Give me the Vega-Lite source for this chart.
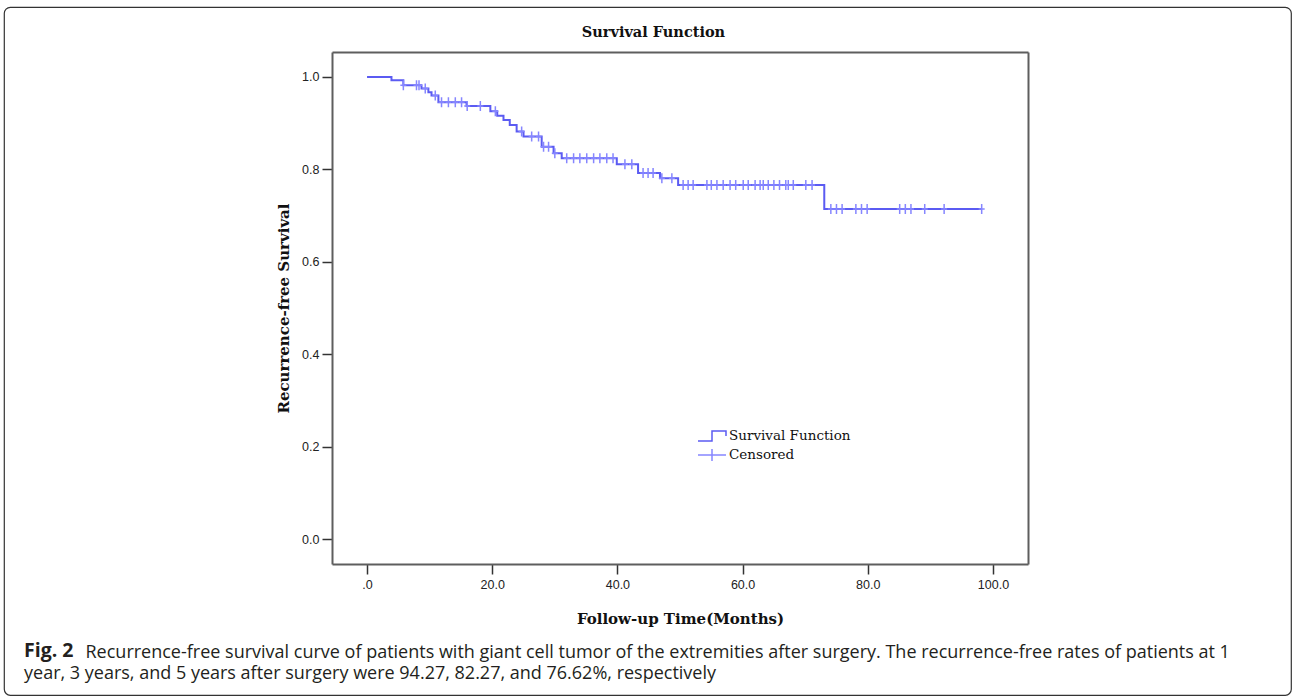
{
  "$schema": "https://vega.github.io/schema/vega-lite/v6.json",
  "width": 1287,
  "height": 688,
  "autosize": {"type": "none"},
  "padding": {"left": 4, "top": 7, "right": 4, "bottom": 2},
  "background": "white",
  "title": {
    "text": "Fig. 2",
    "subtitle": "year, 3 years, and 5 years after surgery were 94.27, 82.27, and 76.62%, respectively",
    "orient": "bottom",
    "anchor": "start",
    "frame": "group",
    "offset": -53,
    "dx": 20,
    "baseline": "top",
    "font": "Open Sans",
    "fontSize": 19.5,
    "fontWeight": "bold",
    "color": "#231f20",
    "subtitleFont": "Open Sans",
    "subtitleFontSize": 18,
    "subtitleFontWeight": "normal",
    "subtitleColor": "#231f20",
    "subtitlePadding": 3.6
  },
  "datasets": {
    "steps": [
      {"time": 0, "surv": 1.0},
      {"time": 3.9, "surv": 0.993},
      {"time": 5.8, "surv": 0.982},
      {"time": 8.7, "surv": 0.975},
      {"time": 9.8, "surv": 0.967},
      {"time": 10.3, "surv": 0.96},
      {"time": 11.4, "surv": 0.945},
      {"time": 15.9, "surv": 0.937},
      {"time": 19.7, "surv": 0.926},
      {"time": 20.8, "surv": 0.916},
      {"time": 21.8, "surv": 0.907},
      {"time": 22.8, "surv": 0.896},
      {"time": 23.9, "surv": 0.882},
      {"time": 25.0, "surv": 0.871},
      {"time": 27.9, "surv": 0.849},
      {"time": 29.8, "surv": 0.835},
      {"time": 31.1, "surv": 0.824},
      {"time": 39.9, "surv": 0.811},
      {"time": 43.3, "surv": 0.792},
      {"time": 46.8, "surv": 0.781},
      {"time": 49.7, "surv": 0.766},
      {"time": 73.05, "surv": 0.714},
      {"time": 98.2, "surv": 0.714}
    ],
    "censored": [
      {"time": 5.8, "surv": 0.982, "series": "Censored"},
      {"time": 7.9, "surv": 0.982, "series": "Censored"},
      {"time": 8.3, "surv": 0.982, "series": "Censored"},
      {"time": 9.3, "surv": 0.975, "series": "Censored"},
      {"time": 10.9, "surv": 0.96, "series": "Censored"},
      {"time": 11.9, "surv": 0.945, "series": "Censored"},
      {"time": 13.0, "surv": 0.945, "series": "Censored"},
      {"time": 14.1, "surv": 0.945, "series": "Censored"},
      {"time": 15.1, "surv": 0.945, "series": "Censored"},
      {"time": 16.0, "surv": 0.937, "series": "Censored"},
      {"time": 18.1, "surv": 0.937, "series": "Censored"},
      {"time": 20.5, "surv": 0.926, "series": "Censored"},
      {"time": 24.7, "surv": 0.882, "series": "Censored"},
      {"time": 26.3, "surv": 0.871, "series": "Censored"},
      {"time": 27.4, "surv": 0.871, "series": "Censored"},
      {"time": 28.2, "surv": 0.849, "series": "Censored"},
      {"time": 29.0, "surv": 0.849, "series": "Censored"},
      {"time": 30.0, "surv": 0.835, "series": "Censored"},
      {"time": 31.9, "surv": 0.824, "series": "Censored"},
      {"time": 33.0, "surv": 0.824, "series": "Censored"},
      {"time": 34.0, "surv": 0.824, "series": "Censored"},
      {"time": 35.1, "surv": 0.824, "series": "Censored"},
      {"time": 36.2, "surv": 0.824, "series": "Censored"},
      {"time": 37.2, "surv": 0.824, "series": "Censored"},
      {"time": 38.3, "surv": 0.824, "series": "Censored"},
      {"time": 39.3, "surv": 0.824, "series": "Censored"},
      {"time": 41.2, "surv": 0.811, "series": "Censored"},
      {"time": 42.3, "surv": 0.811, "series": "Censored"},
      {"time": 44.1, "surv": 0.792, "series": "Censored"},
      {"time": 44.9, "surv": 0.792, "series": "Censored"},
      {"time": 45.7, "surv": 0.792, "series": "Censored"},
      {"time": 47.1, "surv": 0.781, "series": "Censored"},
      {"time": 48.7, "surv": 0.781, "series": "Censored"},
      {"time": 50.5, "surv": 0.766, "series": "Censored"},
      {"time": 51.3, "surv": 0.766, "series": "Censored"},
      {"time": 52.1, "surv": 0.766, "series": "Censored"},
      {"time": 54.3, "surv": 0.766, "series": "Censored"},
      {"time": 55.0, "surv": 0.766, "series": "Censored"},
      {"time": 55.9, "surv": 0.766, "series": "Censored"},
      {"time": 56.9, "surv": 0.766, "series": "Censored"},
      {"time": 58.0, "surv": 0.766, "series": "Censored"},
      {"time": 58.9, "surv": 0.766, "series": "Censored"},
      {"time": 60.1, "surv": 0.766, "series": "Censored"},
      {"time": 60.9, "surv": 0.766, "series": "Censored"},
      {"time": 62.0, "surv": 0.766, "series": "Censored"},
      {"time": 62.8, "surv": 0.766, "series": "Censored"},
      {"time": 63.3, "surv": 0.766, "series": "Censored"},
      {"time": 64.1, "surv": 0.766, "series": "Censored"},
      {"time": 65.0, "surv": 0.766, "series": "Censored"},
      {"time": 65.9, "surv": 0.766, "series": "Censored"},
      {"time": 66.9, "surv": 0.766, "series": "Censored"},
      {"time": 67.3, "surv": 0.766, "series": "Censored"},
      {"time": 68.1, "surv": 0.766, "series": "Censored"},
      {"time": 70.1, "surv": 0.766, "series": "Censored"},
      {"time": 71.1, "surv": 0.766, "series": "Censored"},
      {"time": 74.1, "surv": 0.714, "series": "Censored"},
      {"time": 75.0, "surv": 0.714, "series": "Censored"},
      {"time": 75.9, "surv": 0.714, "series": "Censored"},
      {"time": 78.1, "surv": 0.714, "series": "Censored"},
      {"time": 79.0, "surv": 0.714, "series": "Censored"},
      {"time": 79.9, "surv": 0.714, "series": "Censored"},
      {"time": 85.1, "surv": 0.714, "series": "Censored"},
      {"time": 86.0, "surv": 0.714, "series": "Censored"},
      {"time": 86.9, "surv": 0.714, "series": "Censored"},
      {"time": 89.1, "surv": 0.714, "series": "Censored"},
      {"time": 92.2, "surv": 0.714, "series": "Censored"},
      {"time": 98.2, "surv": 0.714, "series": "Censored"}
    ]
  },
  "layer": [
    {
      "data": {"name": "steps"},
      "mark": {"type": "line", "interpolate": "step-after", "color": "#5b5bf2", "strokeWidth": 2},
      "encoding": {
        "x": {
          "field": "time", "type": "quantitative",
          "scale": {"domain": [-5.6, 105.6], "range": [328, 1024], "nice": false, "zero": false},
          "axis": {
            "orient": "bottom", "offset": -131, "values": [0, 20, 40, 60, 80, 100],
            "labelExpr": "datum.value === 0 ? '.0' : format(datum.value, '.1f')",
            "grid": false, "tickSize": 10, "tickWidth": 1.5, "tickColor": "#333333",
            "domainColor": "#5e5e5e", "domainWidth": 2,
            "labelFont": "Liberation Sans", "labelFontSize": 12.5, "labelColor": "#222222", "labelPadding": 4,
            "title": "Follow-up Time(Months)", "titleFont": "DejaVu Serif", "titleFontSize": 15, "titleFontWeight": "bold", "titleColor": "#111111",
            "titleY": 54, "titleBaseline": "middle"
          }
        },
        "y": {
          "field": "surv", "type": "quantitative",
          "scale": {"domain": [-0.054, 1.054], "range": [557, 45], "nice": false, "zero": false},
          "axis": {
            "orient": "left", "offset": -328, "values": [0, 0.2, 0.4, 0.6, 0.8, 1.0], "format": ".1f",
            "grid": false, "tickSize": 10, "tickWidth": 1.5, "tickColor": "#333333",
            "domainColor": "#5e5e5e", "domainWidth": 2,
            "labelFont": "Liberation Sans", "labelFontSize": 12.5, "labelColor": "#222222", "labelPadding": 3,
            "title": "Recurrence-free Survival", "titleFont": "DejaVu Serif", "titleFontSize": 15, "titleFontWeight": "bold", "titleColor": "#111111",
            "titleX": -49, "titleBaseline": "middle", "titleAngle": -90
          }
        }
      }
    },
    {
      "data": {"name": "censored"},
      "mark": {"type": "point", "shape": "M-0.6,0H0.6M0,-1V1", "filled": false, "size": 100, "strokeWidth": 1.5, "opacity": 1},
      "encoding": {
        "x": {
          "field": "time", "type": "quantitative",
          "scale": {"domain": [-5.6, 105.6], "range": [328, 1024], "nice": false, "zero": false},
          "axis": {
            "orient": "top", "offset": -45, "ticks": false, "labels": false, "grid": false,
            "domainColor": "#5e5e5e", "domainWidth": 2,
            "title": "Survival Function", "titleFont": "DejaVu Serif", "titleFontSize": 14.5, "titleFontWeight": "bold", "titleColor": "#111111",
            "titleX": 649, "titleY": -20, "titleBaseline": "middle", "titleAlign": "center"
          }
        },
        "y": {
          "field": "surv", "type": "quantitative",
          "scale": {"domain": [-0.054, 1.054], "range": [557, 45], "nice": false, "zero": false},
          "axis": {
            "orient": "right", "offset": -263, "ticks": false, "labels": false, "grid": false,
            "domainColor": "#5e5e5e", "domainWidth": 2,
            "title": "Recurrence-free survival curve of patients with giant cell tumor of the extremities after surgery. The recurrence-free rates of patients at 1",
            "titleFont": "Open Sans", "titleFontSize": 18, "titleFontWeight": "normal", "titleColor": "#231f20",
            "titleAngle": 0, "titleAlign": "left", "titleBaseline": "alphabetic", "titleX": -943, "titleY": 650, "titleLimit": 1300
          }
        },
        "color": {
          "field": "series", "type": "nominal",
          "scale": {"domain": ["Survival Function", "Censored"], "range": ["#5b5bf2", "#8686ff"]},
          "legend": {
            "title": null, "orient": "none", "legendX": 700, "legendY": 421, "padding": 0,
            "symbolSize": 196, "symbolStrokeWidth": 1.5, "symbolFillColor": "transparent",
            "labelFont": "DejaVu Serif", "labelFontSize": 13.5, "labelColor": "#111111", "labelOffset": 9,
            "rowPadding": 2,
            "encoding": {"symbols": {"shape": {"value": {"expr": "datum.value === 'Censored' ? 'M-2,0H2M0,-0.85V0.85' : 'M-2,0.7H0V-0.7H2V0'"}}}}
          }
        }
      }
    }
  ],
  "resolve": {
    "scale": {"x": "independent", "y": "independent"},
    "axis": {"x": "independent", "y": "independent"}
  },
  "config": {
    "view": {"stroke": "#333333", "strokeWidth": 1.2, "cornerRadius": 6, "fill": "white"}
  }
}
